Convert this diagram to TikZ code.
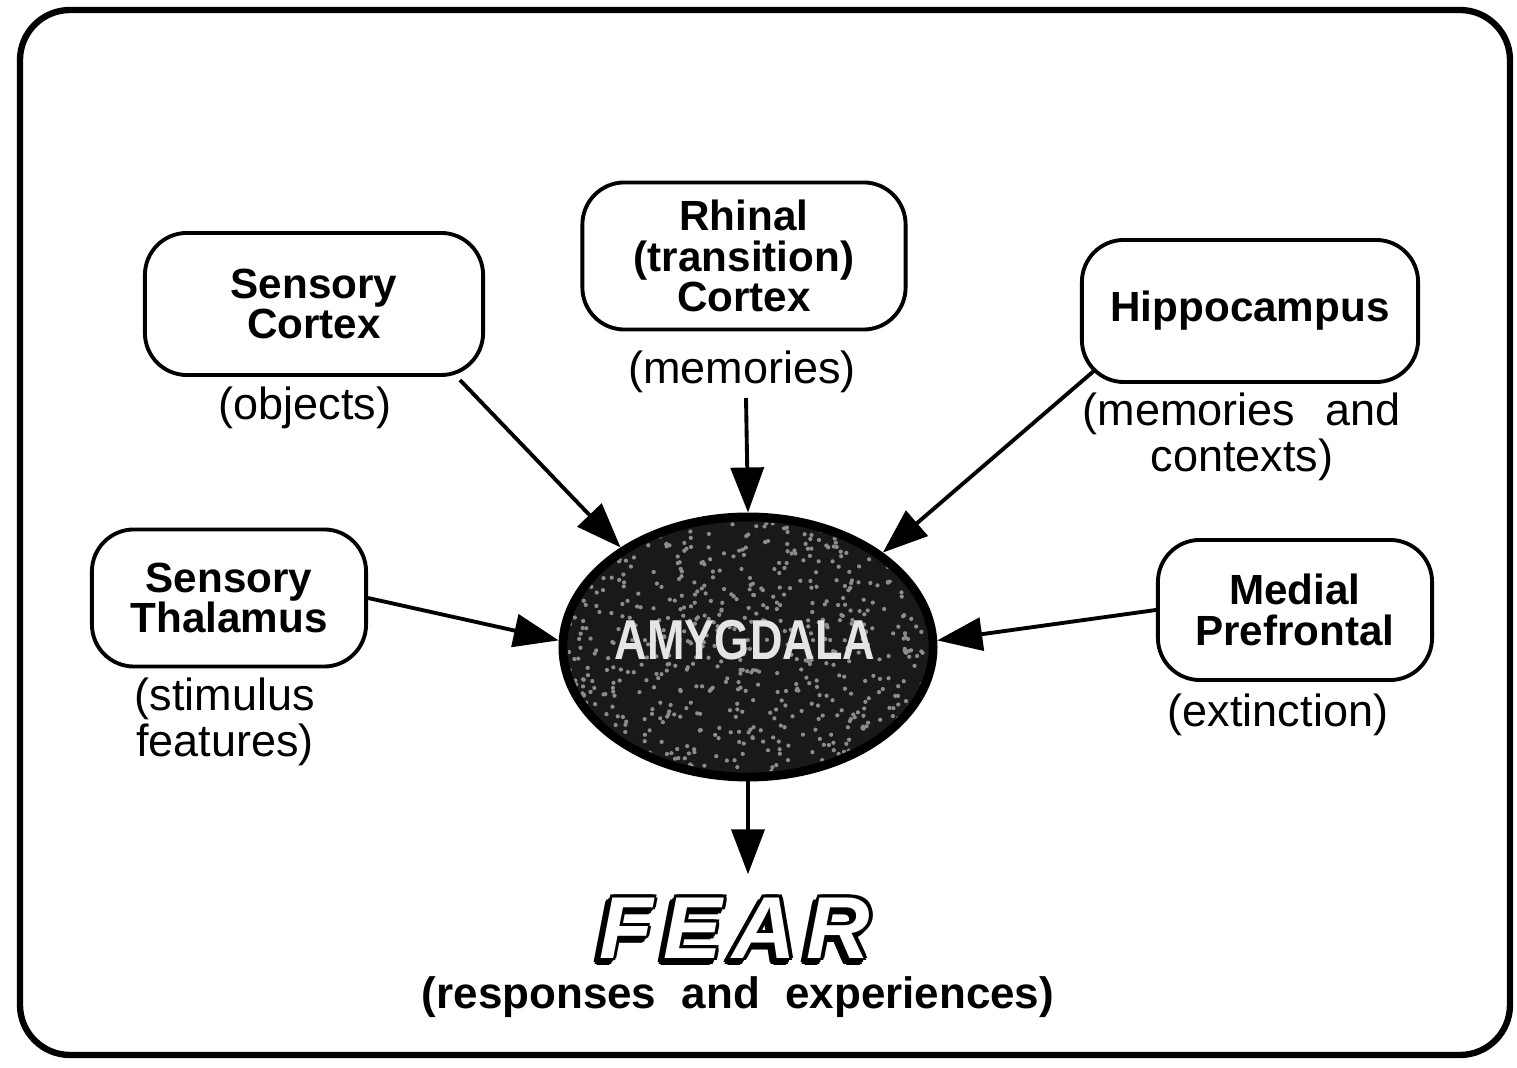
\documentclass[tikz,border=0pt]{standalone}
\usepackage{fontspec}
\setmainfont{Liberation Sans}
\usetikzlibrary{arrows.meta,shapes.geometric}
\begin{document}
\begin{tikzpicture}[x=0.01cm,y=-0.01cm,
 box/.style={draw=black,line width=1.1pt,rounded corners=0.42cm,align=center,
   font=\fontsize{12}{11.5}\selectfont\bfseries,inner sep=0pt},
 lab/.style={align=center,font=\fontsize{12.8}{13}\selectfont},
 arr/.style={line width=1.1pt,-{Triangle[length=0.45cm,width=0.33cm]}},
 fearst/.style={font=\fontsize{25}{25}\selectfont\bfseries\itshape\addfontfeatures{LetterSpace=12}}]
\useasboundingbox (0,0) rectangle (1517,1068);
% outer frame
\draw[line width=1.8pt,rounded corners=0.5cm] (20,10) rectangle (1510,1055);
% boxes
\node[box,minimum width=3.38cm,minimum height=1.42cm] (sc) at (314,304) {Sensory\\Cortex};
\node[box,minimum width=3.23cm,minimum height=1.47cm] (rh) at (744,256) {Rhinal\\(transition)\\Cortex};
\node[box,minimum width=3.36cm,minimum height=1.42cm] (hc) at (1250,311) {Hippocampus};
\node[box,minimum width=2.74cm,minimum height=1.37cm] (th) at (229,598) {Sensory\\Thalamus};
\node[box,minimum width=2.74cm,minimum height=1.40cm] (mp) at (1295,610) {Medial\\Prefrontal};
% labels
\node[lab] (scl) at (305,408) {(objects)};
\node[lab] (rhl) at (742,372) {(memories)};
\node[lab] (hcl) at (1242,437) {(memories\hspace{0.4em} and\\contexts)};
\node[lab] (thl) at (225,722) {(stimulus\\features)};
\node[lab] (mpl) at (1278,715) {(extinction)};
% amygdala
\node[ellipse,draw=black,line width=2.5pt,fill=black!90,minimum width=3.7cm,minimum height=2.6cm] (amy) at (748,647) {};
\begin{scope}
\clip (748,647) ellipse [x radius=1.80cm, y radius=1.25cm];
\pgfmathsetseed{3}
\foreach \i in {1,...,700}{\fill[black!45] ({748+180*rand},{647+125*rand}) circle[radius=0.6pt];}
\end{scope}
\node[text=white!90!black,font=\fontsize{16}{16}\selectfont\bfseries] (amyt) at (745,640) {\scalebox{0.8}[1]{AMYGDALA}};
% FEAR
\foreach \a in {0,45,...,315}{
  \node[fearst,text=black] at ([shift={(\a:0.9pt)},xshift=-1.1pt,yshift=-1.2pt]735,928) {FEAR};
}
\foreach \a in {0,45,...,315}{
  \node[fearst,text=black] at ([shift={(\a:0.9pt)}]735,928) {FEAR};
}
\node[fearst,text=white] (fear) at (735,928) {FEAR};
\node[font=\fontsize{12.5}{13}\selectfont\bfseries] (resp) at (738,997) {(responses\hspace{0.3em} and\hspace{0.3em} experiences)};
% arrows
\coordinate (s1) at (460,380);
\coordinate (s2) at (746,398);
\coordinate (s3) at (1095,370);
\draw[arr] (s1) -- (amy.142);
\draw[arr] (s2) -- (amy.north);
\draw[arr] (s3) -- (amy.35);
\draw[arr] (th.east) -- (amy.178);
\draw[arr] (mp.west) -- (amy.2);
\draw[arr] (amy.south) -- ([yshift=0.11cm]amy.south |- fear.north);
\end{tikzpicture}
\end{document}
